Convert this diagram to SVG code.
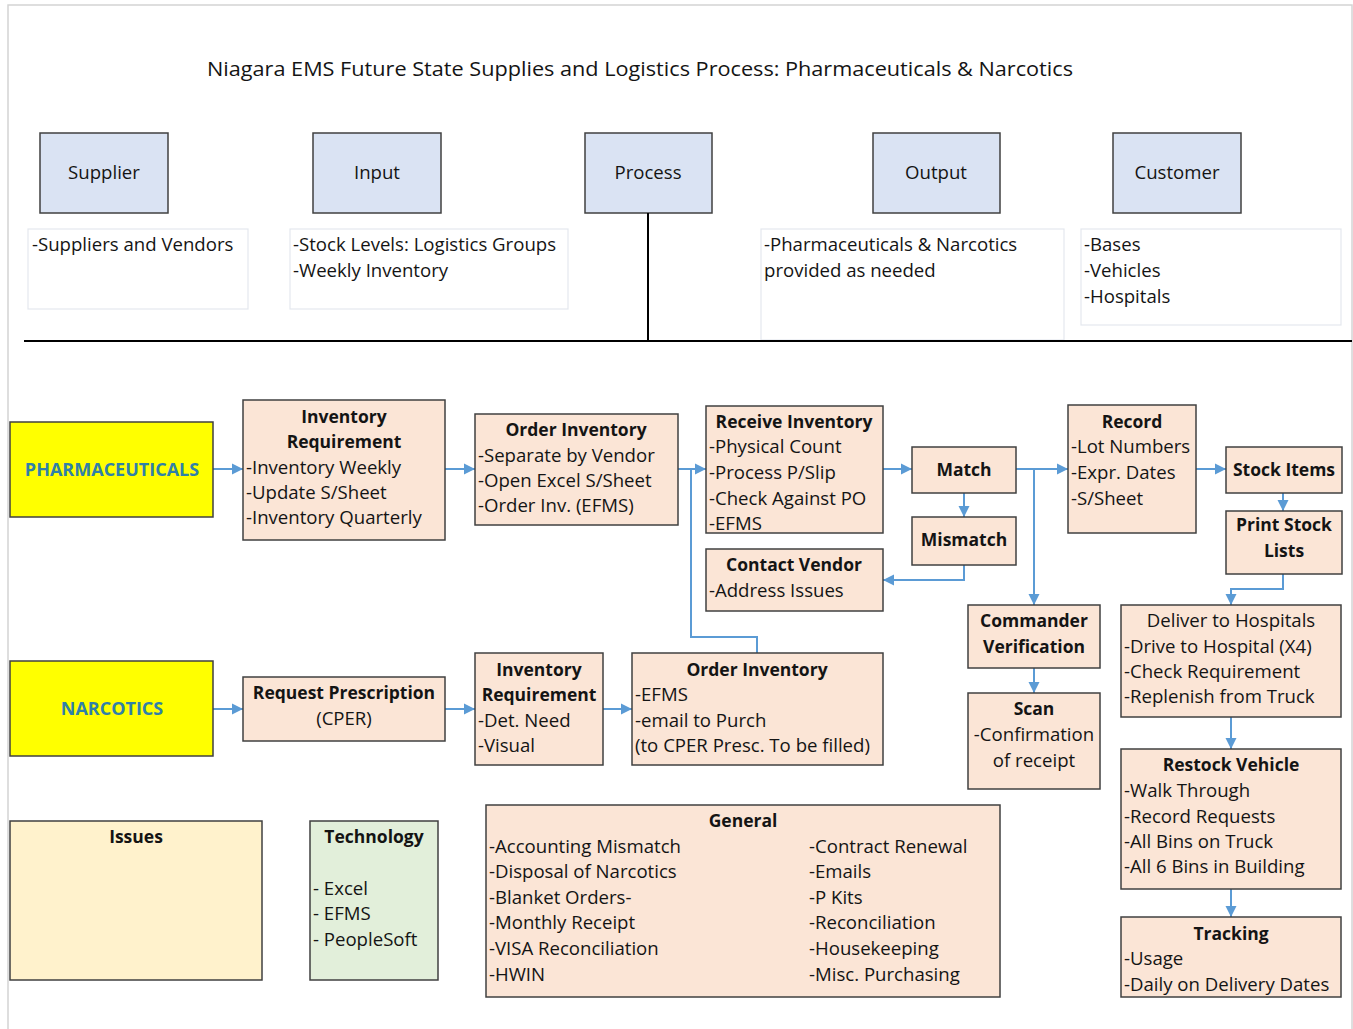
<svg xmlns="http://www.w3.org/2000/svg" width="1353" height="1029" viewBox="0 0 1353 1029">
  <style>
    text { font-family: "Open Sans", "Noto Sans", "Liberation Sans", sans-serif; font-size: 18.6px; fill: #141414; }
    .b { font-weight: bold; font-size: 17.5px; }
    .c { text-anchor: middle; }
    .hdr { fill: #dae3f3; stroke: #404040; stroke-width: 1.5; }
    .tb { fill: #ffffff; stroke: #e4e8ee; stroke-width: 1.2; }
    .pb { fill: #fbe5d6; stroke: #404040; stroke-width: 1.5; }
    .cat { fill: #ffff00; stroke: #404040; stroke-width: 1.5; }
    .cat-t { font-weight: bold; fill: #2f80a8; font-size: 18px; }
    .conn path { stroke: #5b9bd5; stroke-width: 2; fill: none; }
    .arr { marker-end: url(#ah); }
  </style>
  <defs>
    <marker id="ah" markerUnits="userSpaceOnUse" markerWidth="12" markerHeight="12" refX="11" refY="6" orient="auto">
      <path d="M0,0.5 L11,6 L0,11.5 z" fill="#5b9bd5"/>
    </marker>
  </defs>

  <!-- page frame -->
  <rect x="8" y="5" width="1344" height="1040" fill="#ffffff" stroke="#d4d4d4" stroke-width="1.5"/>

  <text x="640" y="76" class="c" style="font-size:20px" textLength="866" lengthAdjust="spacingAndGlyphs">Niagara EMS Future State Supplies and Logistics Process: Pharmaceuticals &amp; Narcotics</text>

  <!-- SIPOC headers -->
  <g id="supplier"><rect class="hdr" x="40" y="133" width="128" height="80"/><text x="104" y="179" class="c">Supplier</text></g>
  <g id="input"><rect class="hdr" x="313" y="133" width="128" height="80"/><text x="377" y="179" class="c">Input</text></g>
  <g id="process"><rect class="hdr" x="585" y="133" width="127" height="80"/><text x="648" y="179" class="c">Process</text></g>
  <g id="output"><rect class="hdr" x="873" y="133" width="127" height="80"/><text x="936" y="179" class="c">Output</text></g>
  <g id="customer"><rect class="hdr" x="1113" y="133" width="128" height="80"/><text x="1177" y="179" class="c">Customer</text></g>

  <g id="supplier-notes"><rect class="tb" x="28" y="229" width="220" height="80"/><text x="32" y="251">-Suppliers and Vendors</text></g>
  <g id="input-notes"><rect class="tb" x="290" y="229" width="278" height="80"/><text x="293" y="251">-Stock Levels: Logistics Groups</text><text x="293" y="277">-Weekly Inventory</text></g>
  <g id="output-notes"><rect class="tb" x="761" y="229" width="303" height="111"/><text x="764" y="251">-Pharmaceuticals &amp; Narcotics</text><text x="764" y="277">provided as needed</text></g>
  <g id="customer-notes"><rect class="tb" x="1081" y="229" width="260" height="96"/><text x="1084" y="251">-Bases</text><text x="1084" y="277">-Vehicles</text><text x="1084" y="303">-Hospitals</text></g>

  <!-- divider -->
  <path d="M648,213 V341 M24,341 H1352" stroke="#000" stroke-width="2" fill="none"/>

  <!-- connectors -->
  <g id="connectors" class="conn">
    <path class="arr" d="M213,469 H243"/>
    <path class="arr" d="M445,469 H475"/>
    <path class="arr" d="M678,469 H706"/>
    <path class="arr" d="M213,709 H243"/>
    <path class="arr" d="M445,709 H475"/>
    <path class="arr" d="M603,709 H632"/>
    <path d="M757,653 V637 H691 V469"/>
    <path class="arr" d="M883,469 H912"/>
    <path class="arr" d="M964,493 V517"/>
    <path class="arr" d="M964,565 V580 H883"/>
    <path class="arr" d="M1016,469 H1068"/>
    <path class="arr" d="M1034,469 V605"/>
    <path class="arr" d="M1196,469 H1226"/>
    <path class="arr" d="M1283,493 V511"/>
    <path class="arr" d="M1283,574 V589 H1231 V605"/>
    <path class="arr" d="M1034,668 V693"/>
    <path class="arr" d="M1231,717 V749"/>
    <path class="arr" d="M1231,889 V917"/>
  </g>

  <!-- pharmaceuticals stream -->
  <g id="pharmaceuticals"><rect class="cat" x="10" y="422" width="203" height="95"/><text x="112" y="476" class="c cat-t">PHARMACEUTICALS</text></g>
  <g id="inv-req-pharma"><rect class="pb" x="243" y="400" width="202" height="140"/>
    <text x="344" y="423" class="c b">Inventory</text><text x="344" y="448" class="c b">Requirement</text>
    <text x="246" y="474">-Inventory Weekly</text><text x="246" y="499">-Update S/Sheet</text><text x="246" y="524">-Inventory Quarterly</text></g>
  <g id="order-inv-pharma"><rect class="pb" x="475" y="414" width="203" height="111"/>
    <text x="576" y="436" class="c b">Order Inventory</text>
    <text x="478" y="462">-Separate by Vendor</text><text x="478" y="487">-Open Excel S/Sheet</text><text x="478" y="512">-Order Inv. (EFMS)</text></g>
  <g id="receive-inv"><rect class="pb" x="706" y="406" width="177" height="127"/>
    <text x="794" y="428" class="c b">Receive Inventory</text>
    <text x="709" y="453">-Physical Count</text><text x="709" y="479">-Process P/Slip</text><text x="709" y="505">-Check Against PO</text><text x="709" y="530">-EFMS</text></g>
  <g id="match"><rect class="pb" x="912" y="447" width="104" height="46"/><text x="964" y="476" class="c b">Match</text></g>
  <g id="mismatch"><rect class="pb" x="912" y="517" width="104" height="48"/><text x="964" y="546" class="c b">Mismatch</text></g>
  <g id="contact-vendor"><rect class="pb" x="706" y="549" width="177" height="62"/>
    <text x="794" y="571" class="c b">Contact Vendor</text><text x="709" y="597">-Address Issues</text></g>
  <g id="record"><rect class="pb" x="1068" y="405" width="128" height="128"/>
    <text x="1132" y="428" class="c b">Record</text>
    <text x="1071" y="453">-Lot Numbers</text><text x="1071" y="479">-Expr. Dates</text><text x="1071" y="505">-S/Sheet</text></g>
  <g id="stock-items"><rect class="pb" x="1226" y="447" width="116" height="46"/><text x="1284" y="476" class="c b">Stock Items</text></g>
  <g id="print-stock"><rect class="pb" x="1226" y="511" width="116" height="63"/>
    <text x="1284" y="531" class="c b">Print Stock</text><text x="1284" y="557" class="c b">Lists</text></g>
  <g id="commander"><rect class="pb" x="968" y="605" width="132" height="63"/>
    <text x="1034" y="627" class="c b">Commander</text><text x="1034" y="653" class="c b">Verification</text></g>
  <g id="scan"><rect class="pb" x="968" y="693" width="132" height="96"/>
    <text x="1034" y="715" class="c b">Scan</text><text x="1034" y="741" class="c">-Confirmation</text><text x="1034" y="767" class="c">of receipt</text></g>
  <g id="deliver"><rect class="pb" x="1121" y="605" width="220" height="112"/>
    <text x="1231" y="627" class="c">Deliver to Hospitals</text>
    <text x="1124" y="653">-Drive to Hospital (X4)</text><text x="1124" y="678">-Check Requirement</text><text x="1124" y="703">-Replenish from Truck</text></g>
  <g id="restock"><rect class="pb" x="1121" y="749" width="220" height="140"/>
    <text x="1231" y="771" class="c b">Restock Vehicle</text>
    <text x="1124" y="797">-Walk Through</text><text x="1124" y="823">-Record Requests</text><text x="1124" y="848">-All Bins on Truck</text><text x="1124" y="873">-All 6 Bins in Building</text></g>
  <g id="tracking"><rect class="pb" x="1121" y="917" width="220" height="80"/>
    <text x="1231" y="940" class="c b">Tracking</text>
    <text x="1124" y="965">-Usage</text><text x="1124" y="991">-Daily on Delivery Dates</text></g>

  <!-- narcotics stream -->
  <g id="narcotics"><rect class="cat" x="10" y="661" width="203" height="95"/><text x="112" y="715" class="c cat-t">NARCOTICS</text></g>
  <g id="request-rx"><rect class="pb" x="243" y="677" width="202" height="64"/>
    <text x="344" y="699" class="c b">Request Prescription</text><text x="344" y="725" class="c">(CPER)</text></g>
  <g id="inv-req-narc"><rect class="pb" x="475" y="653" width="128" height="112"/>
    <text x="539" y="676" class="c b">Inventory</text><text x="539" y="701" class="c b">Requirement</text>
    <text x="478" y="727">-Det. Need</text><text x="478" y="752">-Visual</text></g>
  <g id="order-inv-narc"><rect class="pb" x="632" y="653" width="251" height="112"/>
    <text x="757" y="676" class="c b">Order Inventory</text>
    <text x="635" y="701">-EFMS</text><text x="635" y="727">-email to Purch</text><text x="635" y="752">(to CPER Presc. To be filled)</text></g>

  <!-- legend boxes -->
  <g id="issues"><rect x="10" y="821" width="252" height="159" fill="#fff2cc" stroke="#404040" stroke-width="1.5"/>
    <text x="136" y="843" class="c b">Issues</text></g>
  <g id="technology"><rect x="310" y="821" width="128" height="159" fill="#e2efda" stroke="#404040" stroke-width="1.5"/>
    <text x="374" y="843" class="c b">Technology</text>
    <text x="313" y="895">- Excel</text><text x="313" y="920">- EFMS</text><text x="313" y="946">- PeopleSoft</text></g>
  <g id="general"><rect class="pb" x="486" y="805" width="514" height="192"/>
    <text x="743" y="827" class="c b">General</text>
    <text x="489" y="853">-Accounting Mismatch</text><text x="489" y="878">-Disposal of Narcotics</text><text x="489" y="904">-Blanket Orders-</text>
    <text x="489" y="929">-Monthly Receipt</text><text x="489" y="955">-VISA Reconciliation</text><text x="489" y="981">-HWIN</text>
    <text x="809" y="853">-Contract Renewal</text><text x="809" y="878">-Emails</text><text x="809" y="904">-P Kits</text>
    <text x="809" y="929">-Reconciliation</text><text x="809" y="955">-Housekeeping</text><text x="809" y="981">-Misc. Purchasing</text></g>
</svg>
